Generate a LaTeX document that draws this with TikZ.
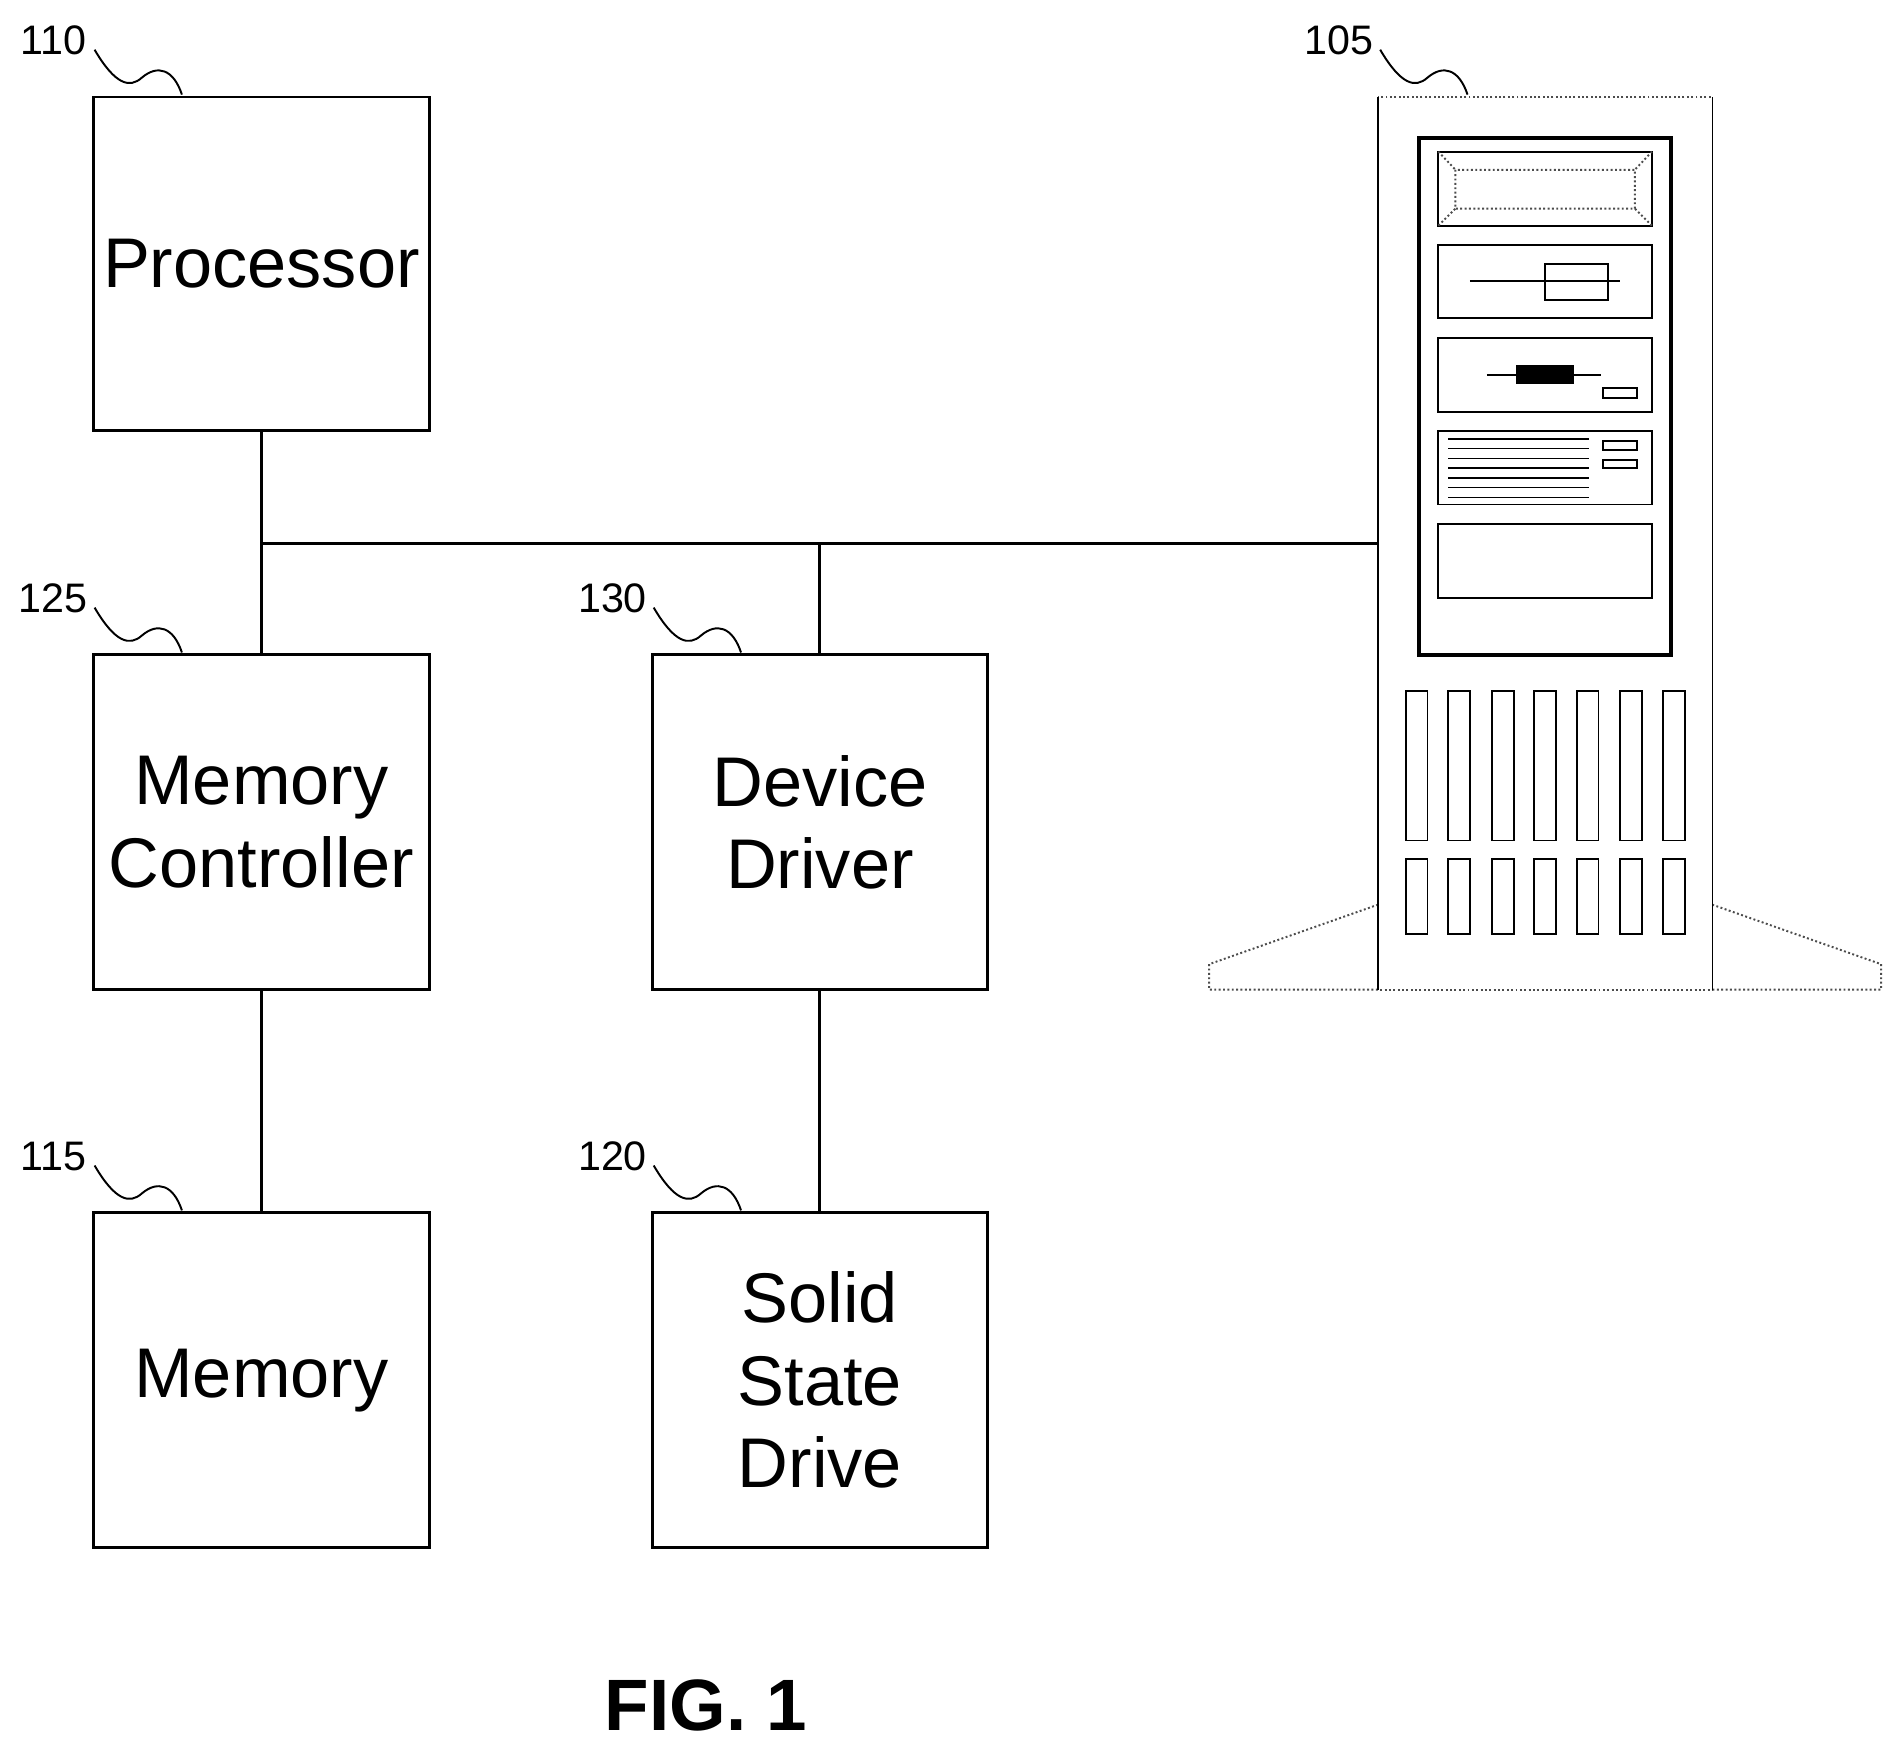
\documentclass[tikz,border=0pt]{standalone}
\usepackage{fontspec}
\setmainfont{Liberation Sans}
\begin{document}
\begin{tikzpicture}[x=0.5pt,y=-0.5pt,
  box/.style={draw,line width=1.2pt},
  lbl/.style={font=\fontsize{29}{34}\selectfont,align=center},
  num/.style={font=\fontsize{17}{20}\selectfont,anchor=base},
  wire/.style={line width=1.2pt},
  dot/.style={draw=black!70,densely dotted,line width=0.8pt}]
\useasboundingbox (0,0) rectangle (1560,1443);
\node[box,minimum width=138.5pt,minimum height=137.5pt] (proc) at (215.5,217.5) {};
\node[lbl] at (proc) {Processor};
\node[box,minimum width=138.5pt,minimum height=138pt] (mc) at (215.5,678) {};
\node[lbl] at (mc) {Memory\\Controller};
\node[box,minimum width=138.5pt,minimum height=138pt] (mem) at (215.5,1138) {};
\node[lbl] at (mem) {Memory};
\node[box,minimum width=138pt,minimum height=138pt] (dd) at (676,678) {};
\node[lbl] at (dd) {Device\\Driver};
\node[box,minimum width=138pt,minimum height=138pt] (ssd) at (676,1138) {};
\node[lbl] at (ssd) {Solid\\State\\Drive};
\coordinate (j1) at (216,448);
\coordinate (j2) at (676,448);
\coordinate (tw) at (1136,448);
\draw[wire] (proc.south) -- (mc.north);
\draw[wire] (j1) -- (tw);
\draw[wire] (j2) -- (dd.north);
\draw[wire] (mc.south) -- (mem.north);
\draw[wire] (dd.south) -- (ssd.north);
% labels
\foreach \t/\x/\y in {110/44/45,125/44/505,115/44/965,130/505/505,120/505/965,105/1104/45}{
  \node[num] at (\x,\y) {\t};
  \draw[line width=0.8pt] (\x+34,\y-4) .. controls (\x+51,\y+25) and (\x+63,\y+28) .. (\x+73,\y+19) .. controls (\x+86,\y+8) and (\x+99,\y+12) .. (\x+106,\y+33);
}
% tower
\draw[dot] (1136,80) rectangle (1412,816);
\draw[dot] (1136,816) -- (997,816) -- (997,795) -- (1136,746);
\draw[dot] (1412,816) -- (1551,816) -- (1551,795) -- (1412,746);
\draw[line width=0.8pt] (1136,80) -- (1136,816) (1412,80)--(1412,816);
\draw[line width=1.6pt] (1170,114) rectangle (1378,540);
\draw[line width=0.8pt] (1186,125) rectangle (1362,186);
\draw[dot] (1200,140) rectangle (1348,172) (1186,125)--(1200,140) (1362,125)--(1348,140) (1186,186)--(1200,172) (1362,186)--(1348,172);
\draw[line width=0.8pt] (1186,202) rectangle (1362,262) (1212,232)--(1336,232) (1274,218) rectangle (1326,247);
\draw[line width=0.8pt] (1186,279) rectangle (1362,340) (1226,309)--(1320,309) (1322,320) rectangle (1350,328);
\fill (1250,301) rectangle (1298,317);
\draw[line width=0.8pt] (1186,355) rectangle (1362,416) (1322,364) rectangle (1350,371) (1322,379) rectangle (1350,386);
\foreach \y in {362,370,378,386,394,402,410} \draw[line width=0.6pt] (1194,\y)--(1310,\y);
\draw[line width=0.8pt] (1186,432) rectangle (1362,493);
\foreach \x in {1159,1194,1230,1265,1300,1336,1371}{
  \draw[line width=0.8pt] (\x,570) rectangle (\x+18,693) (\x,708) rectangle (\x+18,770);
}
\node[font=\bfseries\fontsize{30}{36}\selectfont] (fig) at (582,1406) {FIG. 1};
\end{tikzpicture}
\end{document}
